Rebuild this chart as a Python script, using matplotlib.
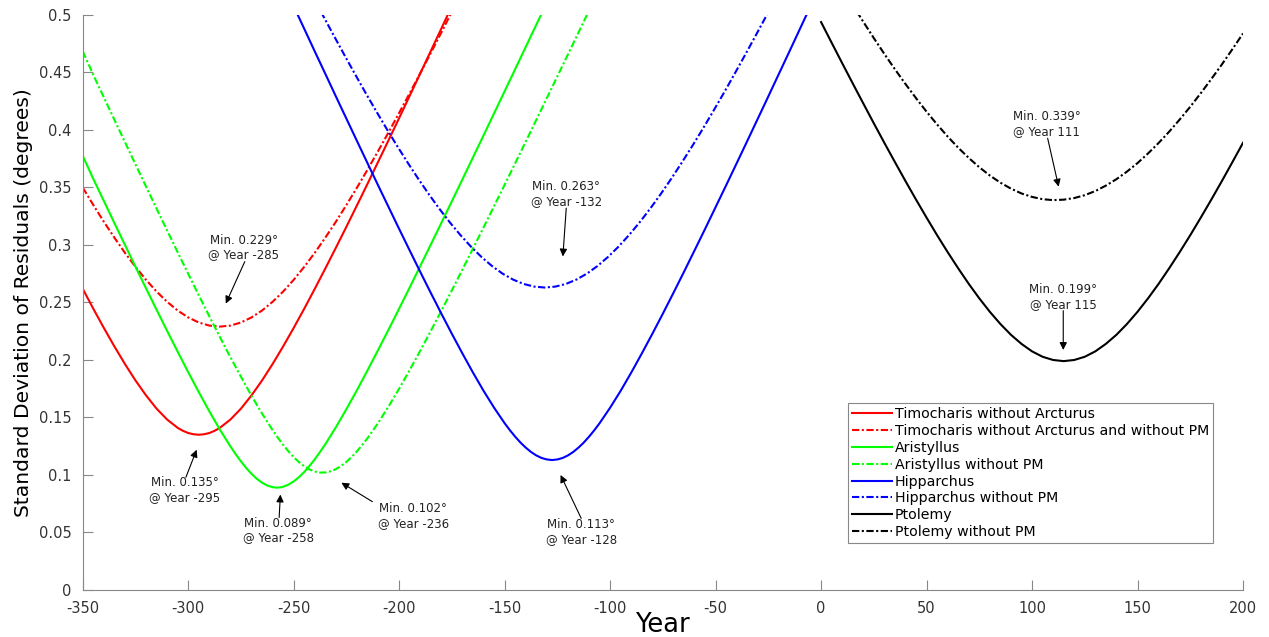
import matplotlib
matplotlib.use("Agg")
import matplotlib.pyplot as plt
from matplotlib.ticker import FuncFormatter

plt.rcParams['font.family'] = ['DejaVu Sans']
plt.rcParams['axes.unicode_minus'] = False

# values (year, std of residuals in degrees)
timo_x = [-350, -345, -340, -335, -330, -325, -320, -315, -310, -305, -302.5, -300, -297.5,
          -295, -292.5, -290, -287.5, -285, -280, -275, -270, -265, -260, -255, -250,
          -245, -240, -235, -230, -225, -220, -215, -210, -205, -200, -195, -190, -185,
          -180, -175]
timo_y = [0.2619, 0.2446, 0.2279, 0.2118, 0.1965, 0.1822, 0.1692, 0.1577, 0.1482, 0.1410, 0.1384,
          0.1365, 0.1354, 0.1350, 0.1354, 0.1365, 0.1384, 0.1410, 0.1482, 0.1577, 0.1692, 0.1822,
          0.1965, 0.2118, 0.2279, 0.2446, 0.2619, 0.2796, 0.2976, 0.3159, 0.3345, 0.3532, 0.3722,
          0.3912, 0.4104, 0.4298, 0.4492, 0.4687, 0.4882, 0.5079]

timo_pm_x = [-350, -345, -340, -335, -330, -325, -320, -315, -310, -305, -300, -295, -290,
             -285, -280, -275, -270, -265, -260, -255, -250, -245, -240, -235, -230, -225,
             -220, -215, -210, -205, -200, -195, -190, -185, -180, -175]
timo_pm_y = [0.3499, 0.3348, 0.3202, 0.3064, 0.2932, 0.2810, 0.2697, 0.2595, 0.2506, 0.2430,
             0.2370, 0.2326, 0.2299, 0.2290, 0.2299, 0.2326, 0.2370, 0.2430, 0.2506, 0.2595,
             0.2697, 0.2810, 0.2932, 0.3064, 0.3202, 0.3348, 0.3499, 0.3655, 0.3816, 0.3981,
             0.4149, 0.4320, 0.4494, 0.4670, 0.4848, 0.5029]

aris_x = [-350, -345, -340, -335, -330, -325, -320, -315, -310, -305, -300, -295, -290,
          -285, -280, -277.5, -275, -272.5, -270, -267.5, -265, -262.5, -260, -258, -256,
          -255, -252.5, -250, -247.5, -245, -242.5, -240, -237.5, -235, -230, -225, -220,
          -215, -210, -205, -200, -195, -190, -185, -180, -175, -170, -165, -160, -155,
          -150, -145, -140, -135, -130]
aris_y = [0.3775, 0.3575, 0.3383, 0.3191, 0.3001, 0.2811, 0.2623, 0.2437, 0.2253, 0.2072, 0.1894,
          0.1721, 0.1554, 0.1395, 0.1249, 0.1181, 0.1118, 0.1061, 0.1010, 0.0967, 0.0933, 0.0908,
          0.0894, 0.0890, 0.0893, 0.0898, 0.0916, 0.0944, 0.0981, 0.1026, 0.1079, 0.1137, 0.1201,
          0.1268, 0.1415, 0.1573, 0.1738, 0.1910, 0.2086, 0.2265, 0.2447, 0.2631, 0.2817, 0.3004,
          0.3192, 0.3381, 0.3571, 0.3762, 0.3953, 0.4145, 0.4337, 0.4529, 0.4722, 0.4915, 0.5109]

aris_pm_x = [-350, -345, -340, -335, -330, -325, -320, -315, -310, -305, -300, -295, -290,
             -285, -280, -275, -270, -265, -260, -257.5, -255, -252.5, -250, -247.5, -245,
             -242.5, -240, -237.5, -235, -232.5, -230, -227.5, -225, -222.5, -220, -217.5,
             -215, -210, -205, -200, -195, -190, -185, -180, -175, -170, -165, -160, -155,
             -150, -145, -140, -135, -130, -125, -120, -115, -110]
aris_pm_y = [0.4685, 0.4479, 0.4284, 0.4089, 0.3895, 0.3701, 0.3508, 0.3316, 0.3126, 0.2937,
             0.2749, 0.2563, 0.2380, 0.2200, 0.2024, 0.1854, 0.1689, 0.1534, 0.1390, 0.1324,
             0.1262, 0.1206, 0.1155, 0.1112, 0.1076, 0.1048, 0.1030, 0.1021, 0.1022, 0.1032,
             0.1051, 0.1079, 0.1114, 0.1157, 0.1206, 0.1261, 0.1320, 0.1452, 0.1597, 0.1751,
             0.1913, 0.2081, 0.2253, 0.2428, 0.2606, 0.2787, 0.2969, 0.3153, 0.3338, 0.3524,
             0.3711, 0.3899, 0.4088, 0.4277, 0.4467, 0.4657, 0.4847, 0.5038]

hipp_x = [-250, -245, -240, -235, -230, -225, -220, -215, -210, -205, -200, -195, -190,
          -185, -180, -175, -170, -165, -160, -155, -150, -147.5, -145, -142.5, -140,
          -137.5, -135, -132.5, -130, -127.5, -125, -122.5, -120, -117.5, -115, -112.5,
          -110, -107.5, -105, -100, -95, -90, -85, -80, -75, -70, -65, -60, -55, -50,
          -45, -40, -35, -30, -25, -20, -15, -10, -5]
hipp_y = [0.5076, 0.4880, 0.4683, 0.4488, 0.4292, 0.4098, 0.3904, 0.3711, 0.3519, 0.3329,
          0.3139, 0.2952, 0.2766, 0.2583, 0.2403, 0.2227, 0.2056, 0.1890, 0.1732, 0.1585,
          0.1450, 0.1389, 0.1333, 0.1282, 0.1238, 0.1200, 0.1170, 0.1148, 0.1135, 0.1130,
          0.1135, 0.1148, 0.1170, 0.1200, 0.1238, 0.1282, 0.1333, 0.1389, 0.1450, 0.1585,
          0.1732, 0.1890, 0.2056, 0.2227, 0.2403, 0.2583, 0.2766, 0.2952, 0.3139, 0.3329,
          0.3519, 0.3711, 0.3904, 0.4098, 0.4292, 0.4488, 0.4683, 0.4880, 0.5076]

hipp_pm_x = [-241, -236, -231, -226, -221, -216, -211, -206, -201, -196, -191, -186, -181,
             -176, -171, -166, -161, -156, -151, -146, -141, -136, -131, -126, -121, -116,
             -111, -106, -101, -96, -91, -86, -81, -76, -71, -66, -61, -56, -51, -46, -41,
             -36, -31, -26, -21]
hipp_pm_y = [0.5164, 0.4991, 0.4821, 0.4653, 0.4488, 0.4325, 0.4167, 0.4012, 0.3862, 0.3717,
             0.3577, 0.3443, 0.3316, 0.3197, 0.3087, 0.2986, 0.2896, 0.2817, 0.2751, 0.2699,
             0.2661, 0.2638, 0.2630, 0.2638, 0.2661, 0.2699, 0.2751, 0.2817, 0.2896, 0.2986,
             0.3087, 0.3197, 0.3316, 0.3443, 0.3577, 0.3717, 0.3862, 0.4012, 0.4167, 0.4325,
             0.4488, 0.4653, 0.4821, 0.4991, 0.5164]

ptol_x = [0, 5, 10, 15, 20, 25, 30, 35, 40, 45, 50, 55, 60, 65, 70, 75, 80, 85, 90, 95, 100,
          105, 110, 115, 120, 125, 130, 135, 140, 145, 150, 155, 160, 165, 170, 175, 180,
          185, 190, 195, 200]
ptol_y = [0.4938, 0.4759, 0.4581, 0.4405, 0.4231, 0.4058, 0.3888, 0.3721, 0.3556, 0.3395,
          0.3238, 0.3085, 0.2938, 0.2797, 0.2662, 0.2536, 0.2419, 0.2313, 0.2219, 0.2140,
          0.2075, 0.2028, 0.2000, 0.1990, 0.2000, 0.2028, 0.2075, 0.2140, 0.2219, 0.2313,
          0.2419, 0.2536, 0.2662, 0.2797, 0.2938, 0.3085, 0.3238, 0.3395, 0.3556, 0.3721,
          0.3888]

ptol_pm_x = [0, 5, 10, 15, 20, 25, 30, 35, 40, 45, 50, 55, 60, 65, 70, 75, 80, 85, 90, 95,
             100, 105, 110, 115, 120, 125, 130, 135, 140, 145, 150, 155, 160, 165, 170, 175,
             180, 185, 190, 195, 200]
ptol_pm_y = [0.5542, 0.5387, 0.5235, 0.5086, 0.4941, 0.4799, 0.4661, 0.4528, 0.4400, 0.4277,
             0.4159, 0.4048, 0.3943, 0.3846, 0.3757, 0.3676, 0.3604, 0.3542, 0.3490, 0.3448,
             0.3418, 0.3398, 0.3390, 0.3394, 0.3408, 0.3433, 0.3469, 0.3516, 0.3572, 0.3638,
             0.3712, 0.3796, 0.3887, 0.3985, 0.4091, 0.4202, 0.4320, 0.4443, 0.4570, 0.4703,
             0.4839]

series = [
    ("Timocharis without Arcturus", timo_x, timo_y, "#ff0000", "-"),
    ("Timocharis without Arcturus and without PM", timo_pm_x, timo_pm_y, "#ff0000", "-."),
    ("Aristyllus", aris_x, aris_y, "#00ff00", "-"),
    ("Aristyllus without PM", aris_pm_x, aris_pm_y, "#00ff00", "-."),
    ("Hipparchus", hipp_x, hipp_y, "#0000ff", "-"),
    ("Hipparchus without PM", hipp_pm_x, hipp_pm_y, "#0000ff", "-."),
    ("Ptolemy", ptol_x, ptol_y, "#000000", "-"),
    ("Ptolemy without PM", ptol_pm_x, ptol_pm_y, "#000000", "-."),
]

# minima callouts: text, text pos, arrow tail, arrow head
notes = [
    ("Min. 0.229\u00b0\n@ Year -285", (-273.6, 0.298), (-273.2, 0.2855), (-282.2, 0.249)),
    ("Min. 0.135\u00b0\n@ Year -295", (-301.6, 0.087), (-301.1, 0.098), (-296.0, 0.122)),
    ("Min. 0.089\u00b0\n@ Year -258", (-257.4, 0.0516), (-256.9, 0.063), (-256.3, 0.083)),
    ("Min. 0.102\u00b0\n@ Year -236", (-193.4, 0.0643), (-212.7, 0.0768), (-227.4, 0.0933)),
    ("Min. 0.263\u00b0\n@ Year -132", (-120.8, 0.3443), (-120.8, 0.332), (-122.4, 0.290)),
    ("Min. 0.113\u00b0\n@ Year -128", (-113.7, 0.0504), (-113.7, 0.0623), (-123.5, 0.100)),
    ("Min. 0.339\u00b0\n@ Year 111", (106.9, 0.405), (107.4, 0.3928), (112.6, 0.3507)),
    ("Min. 0.199\u00b0\n@ Year 115", (114.8, 0.2548), (114.8, 0.2429), (114.8, 0.2087)),
]

fig = plt.figure(figsize=(12.69, 6.37), dpi=100)
ax = fig.add_axes([0.0652, 0.0738, 0.9143, 0.9027])

for name, xs, ys, col, ls in series:
    if ls == "-.":
        ax.plot(xs, ys, color=col, lw=1.5, linestyle=(0, (3.5, 1.2, 1.0, 1.2)), label=name)
    else:
        ax.plot(xs, ys, color=col, lw=1.5, linestyle="-", label=name)

for txt, tpos, tail, head in notes:
    ax.text(tpos[0], tpos[1], txt, ha="center", va="center", fontsize=8.5,
            color="#222222", linespacing=1.15)
    ax.annotate("", xy=head, xytext=tail,
                arrowprops=dict(arrowstyle="-|>", color="black", lw=0.8,
                                mutation_scale=11, shrinkA=0, shrinkB=0))

ax.set_xlim(-350, 200)
ax.set_ylim(0, 0.5)
ax.set_xticks(range(-350, 201, 50))
ax.set_yticks([i * 0.05 for i in range(11)])
ax.yaxis.set_major_formatter(FuncFormatter(lambda v, p: "%g" % round(v, 2)))

for s in ["top", "right"]:
    ax.spines[s].set_visible(False)
for s in ["left", "bottom"]:
    ax.spines[s].set_color("#888888")
ax.tick_params(direction="in", length=7, width=0.8, color="#888888",
               labelsize=10.5, labelcolor="#333333", pad=8)

ax.set_xlabel("Year", fontsize=18.5, labelpad=-3)
ax.set_ylabel("Standard Deviation of Residuals (degrees)", fontsize=14.6, labelpad=4)

leg = ax.legend(loc="upper left", bbox_to_anchor=(0.6595, 0.3252), borderaxespad=0,
                fontsize=10.2, handlelength=2.8, handletextpad=0.2, labelspacing=0.2,
                borderpad=0.3, fancybox=False, framealpha=1, edgecolor="#888888")
leg.get_frame().set_linewidth(0.8)

fig.savefig("out.png", dpi=100)
